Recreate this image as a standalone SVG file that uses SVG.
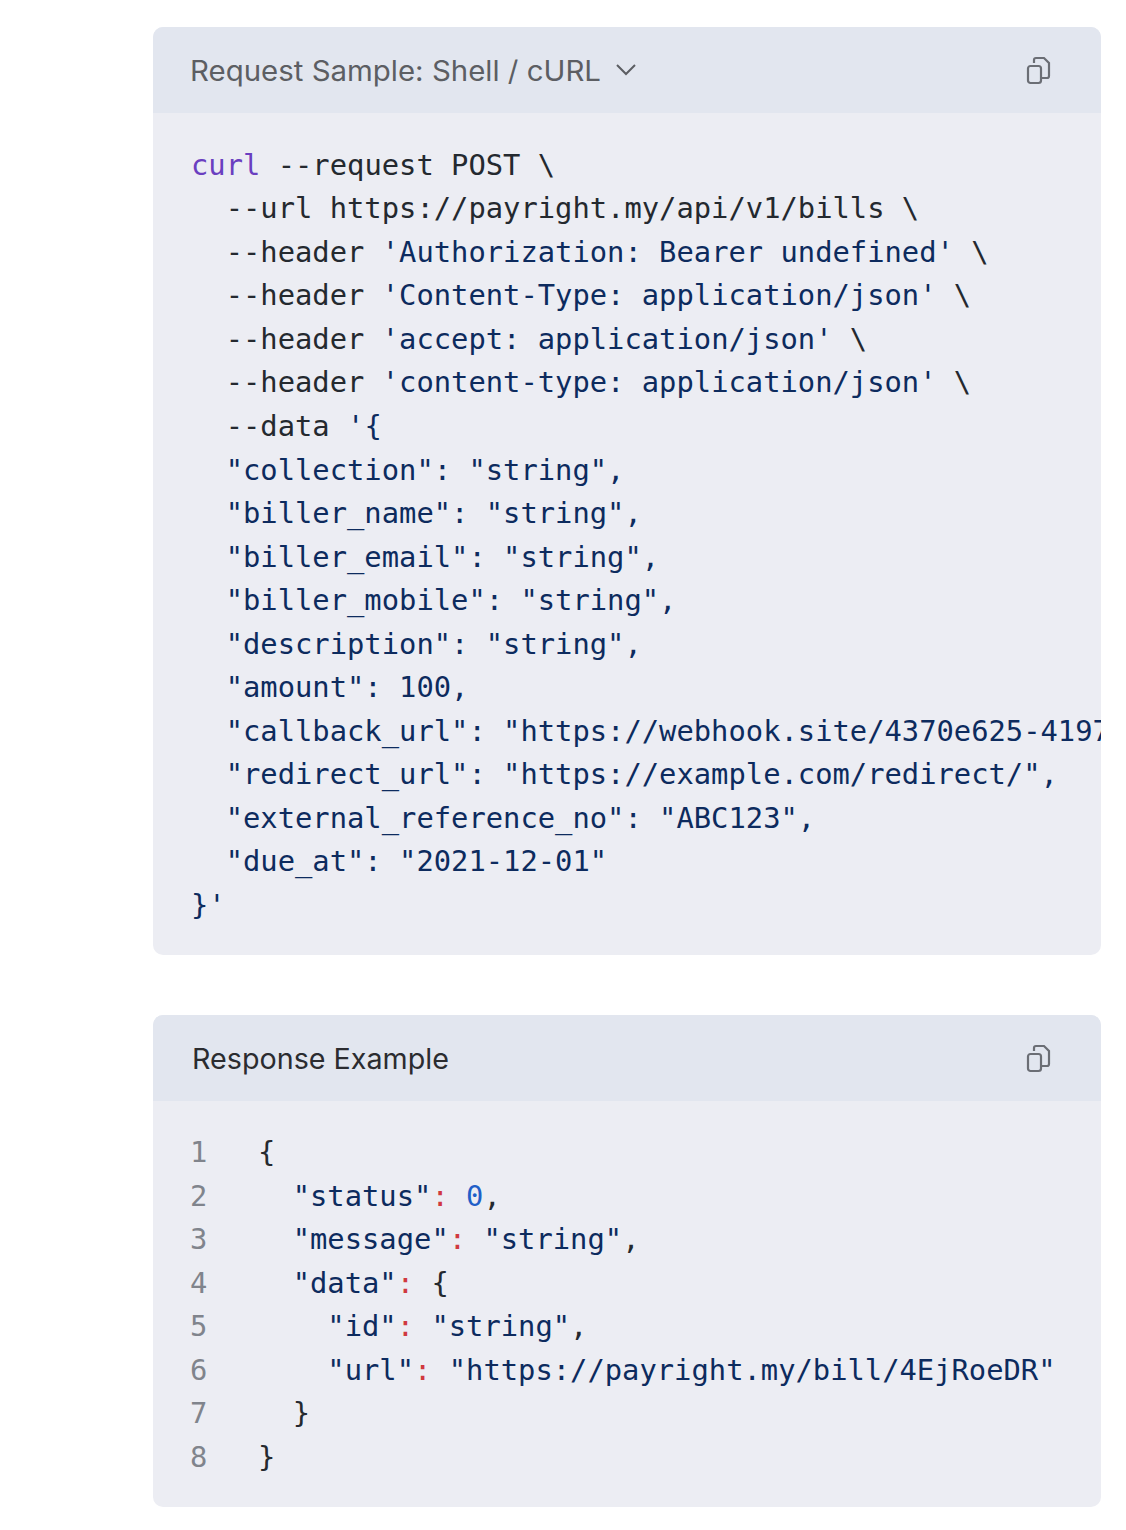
<svg xmlns="http://www.w3.org/2000/svg" width="1126" height="1530" viewBox="0 0 1126 1530">
<style>
.m{font-family:"DejaVu Sans Mono",monospace;font-size:28.8px;fill:#24292f;white-space:pre}
.s{fill:#0d2b5e}.k{fill:#6a3fc0}.r{fill:#d0393f}.n{fill:#1f5fc8}.ln{fill:#80848c}
.h{font-family:Inter,"Noto Sans",sans-serif;font-size:28px}
.ic{fill:none;stroke:#6b6e75;stroke-width:2.2}
</style>
<defs>
<clipPath id="c1"><rect x="153" y="27" width="948" height="928" rx="10"/></clipPath>
<g id="copy"><rect class="ic" x="0" y="8" width="13" height="17" rx="2.5"/><path class="ic" d="M6 5 v-3 a2 2 0 0 1 2 -2 h8 l5 5 v13 a2 2 0 0 1 -2 2 h-5"/></g>
</defs>
<rect width="1126" height="1530" fill="#fff"/>
<g id="request">
<g clip-path="url(#c1)">
<rect x="153" y="27" width="948" height="928" fill="#ecedf3"/>
<rect x="153" y="27" width="948" height="86" fill="#e2e6ef"/>
<text class="h" x="190" y="81" fill="#5c5e63" textLength="411" lengthAdjust="spacingAndGlyphs">Request Sample: Shell / cURL</text>
<path d="M617 65 l9 9 l9 -9" fill="none" stroke="#5c5e63" stroke-width="2"/>
<use href="#copy" x="1028" y="58"/>
<text class="m" x="191" y="175"><tspan class="k">curl</tspan> --request POST \</text>
<text class="m" x="191" y="218">  --url https://payright.my/api/v1/bills \</text>
<text class="m" x="191" y="262">  --header <tspan class="s">'Authorization: Bearer undefined'</tspan> \</text>
<text class="m" x="191" y="305">  --header <tspan class="s">'Content-Type: application/json'</tspan> \</text>
<text class="m" x="191" y="349">  --header <tspan class="s">'accept: application/json'</tspan> \</text>
<text class="m" x="191" y="392">  --header <tspan class="s">'content-type: application/json'</tspan> \</text>
<text class="m" x="191" y="436">  --data <tspan class="s">'{</tspan></text>
<text class="m s" x="191" y="480">  "collection": "string",</text>
<text class="m s" x="191" y="523">  "biller_name": "string",</text>
<text class="m s" x="191" y="567">  "biller_email": "string",</text>
<text class="m s" x="191" y="610">  "biller_mobile": "string",</text>
<text class="m s" x="191" y="654">  "description": "string",</text>
<text class="m s" x="191" y="697">  "amount": 100,</text>
<text class="m s" x="191" y="741">  "callback_url": "https://webhook.site/4370e625-4197",</text>
<text class="m s" x="191" y="784">  "redirect_url": "https://example.com/redirect/",</text>
<text class="m s" x="191" y="828">  "external_reference_no": "ABC123",</text>
<text class="m s" x="191" y="871">  "due_at": "2021-12-01"</text>
<text class="m s" x="191" y="915">}'</text>
</g>
</g>
<g id="response">
<rect x="153" y="1015" width="948" height="492" rx="10" fill="#ecedf3"/>
<path d="M153 1101 V1025 a10 10 0 0 1 10 -10 H1091 a10 10 0 0 1 10 10 V1101 Z" fill="#e2e6ef"/>
<text class="h" x="192" y="1069" fill="#2b2c30" textLength="257" lengthAdjust="spacingAndGlyphs">Response Example</text>
<use href="#copy" x="1028" y="1046"/>
<g class="m ln">
<text x="190" y="1162">1</text><text x="190" y="1206">2</text><text x="190" y="1249">3</text><text x="190" y="1293">4</text>
<text x="190" y="1336">5</text><text x="190" y="1380">6</text><text x="190" y="1423">7</text><text x="190" y="1467">8</text>
</g>
<text class="m" x="258" y="1162">{</text>
<text class="m" x="258" y="1206">  <tspan class="s">"status"</tspan><tspan class="r">:</tspan> <tspan class="n">0</tspan>,</text>
<text class="m" x="258" y="1249">  <tspan class="s">"message"</tspan><tspan class="r">:</tspan> <tspan class="s">"string"</tspan>,</text>
<text class="m" x="258" y="1293">  <tspan class="s">"data"</tspan><tspan class="r">:</tspan> {</text>
<text class="m" x="258" y="1336">    <tspan class="s">"id"</tspan><tspan class="r">:</tspan> <tspan class="s">"string"</tspan>,</text>
<text class="m" x="258" y="1380">    <tspan class="s">"url"</tspan><tspan class="r">:</tspan> <tspan class="s">"https://payright.my/bill/4EjRoeDR"</tspan></text>
<text class="m" x="258" y="1423">  }</text>
<text class="m" x="258" y="1467">}</text>
</g>
</svg>
